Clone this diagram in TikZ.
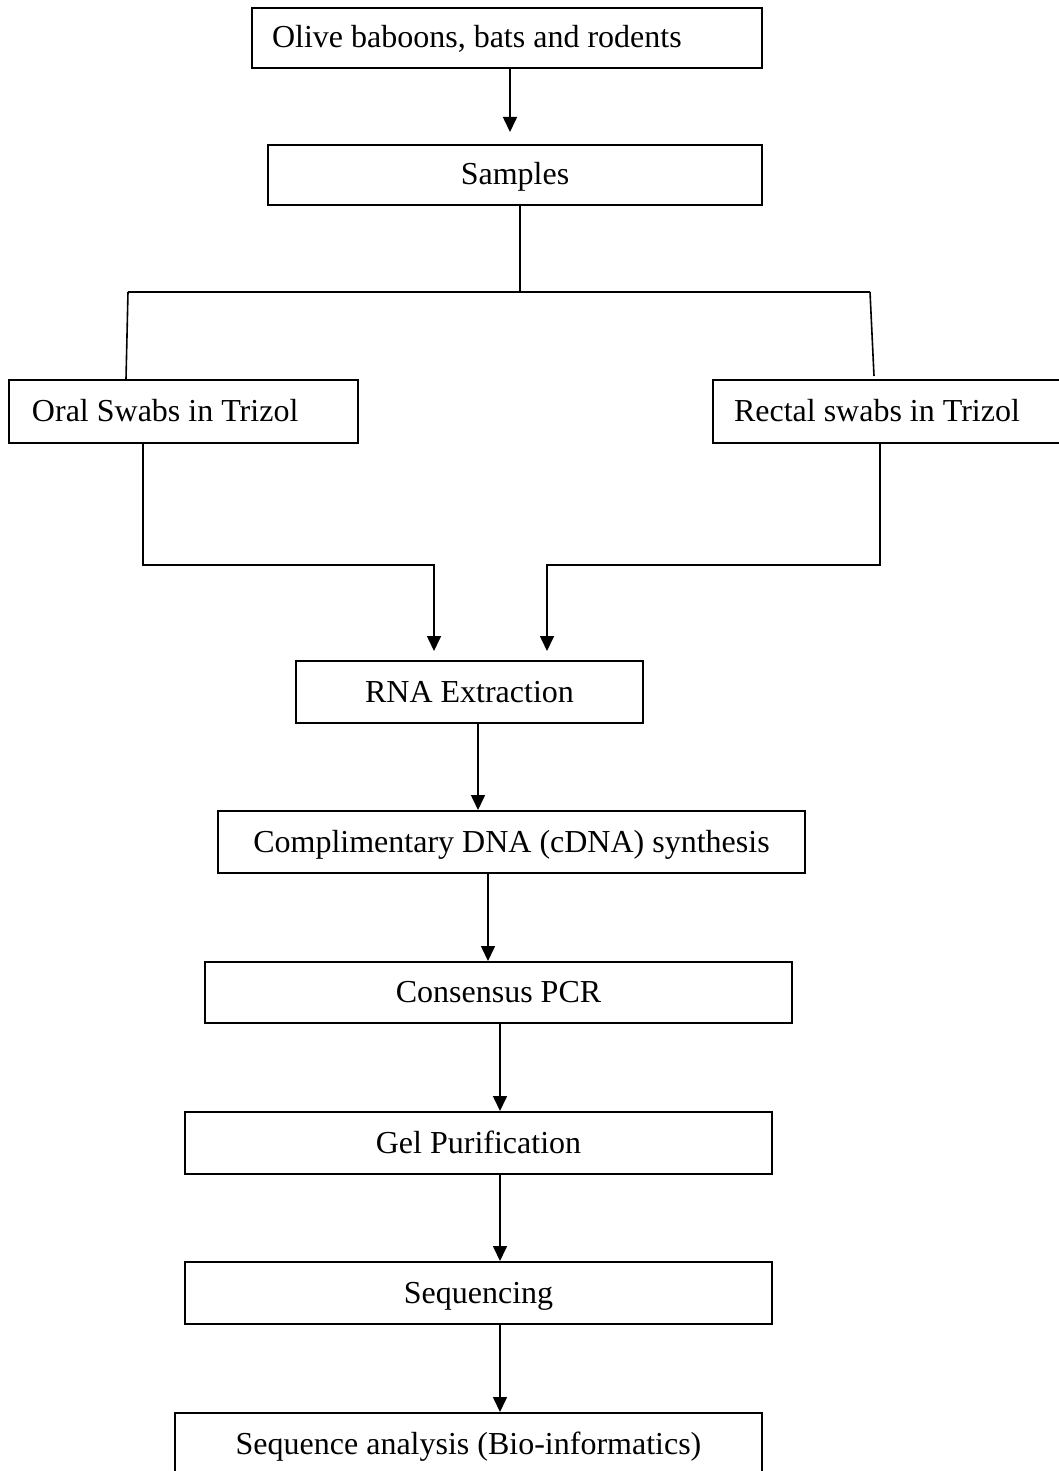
\documentclass[tikz,border=0pt]{standalone}
\usepackage{fontspec}
\setmainfont{Liberation Serif}
\usetikzlibrary{arrows.meta}
\begin{document}
\begin{tikzpicture}[x=0.5pt,y=-0.5pt,
  box/.style={draw, line width=1pt, rectangle, inner sep=0pt, font=\fontsize{16}{19}\selectfont, text height=12pt, text depth=2pt, anchor=center},
  lbox/.style={box, align=flush left},
  conn/.style={line width=0.8pt},
  arr/.style={conn, -{Triangle[length=7.5pt,width=7pt]}}]
\useasboundingbox (0,0) rectangle (1059,1471);
\clip (0,0) rectangle (1059,1471);
% boxes
\node[lbox, minimum width=255pt, minimum height=30pt, inner xsep=10pt, text width=235pt] (b1) at (507,38) {Olive baboons, bats and rodents};
\node[box, minimum width=247pt, minimum height=30pt] (b2) at (515,175) {Samples};
\node[lbox, minimum width=174.5pt, minimum height=31.5pt, inner xsep=11.5pt, text width=151.5pt] (oral) at (183.5,411.5) {Oral Swabs in Trizol};
\node[lbox, minimum width=174.5pt, minimum height=31.5pt, inner xsep=10.5pt, text width=153.5pt] (rectal) at (887.5,411.5) {Rectal swabs in Trizol};
\node[box, minimum width=173.5pt, minimum height=31pt] (rna) at (469.5,692) {RNA Extraction};
\node[box, minimum width=293.5pt, minimum height=31pt] (cdna) at (511.5,842) {Complimentary DNA (cDNA) synthesis};
\node[box, minimum width=293.5pt, minimum height=30.5pt] (pcr) at (498.5,992.5) {Consensus PCR};
\node[box, minimum width=293.5pt, minimum height=31pt] (gel) at (478.5,1143) {Gel Purification};
\node[box, minimum width=293.5pt, minimum height=31pt] (seqg) at (478.5,1293) {Sequencing};
\node[box, minimum width=293.5pt, minimum height=31pt] (ana) at (468.5,1444) {Sequence analysis (Bio-informatics)};
% connectors
\draw[arr] ([xshift=1.5pt]b1.south) -- ([xshift=-2.5pt,yshift=6pt]b2.north);
\coordinate (sp) at (520,292);
\coordinate (spl) at (128,292);
\coordinate (spr) at (870,292);
\draw[conn] ([xshift=2.5pt]b2.south) -- (sp);
\draw[conn] (spl) -- (spr);
\draw[conn] (spl) -- ([xshift=-28.75pt]oral.north);
\draw[conn] (spr) -- ([xshift=-6.75pt,yshift=1.5pt]rectal.north);
\draw[arr] ([xshift=-20.25pt]oral.south) -- ++(0,121) -| ([xshift=-17.75pt,yshift=4.5pt]rna.north);
\draw[arr] ([xshift=-3.75pt]rectal.south) -- ++(0,121) -| ([xshift=38.75pt,yshift=4.5pt]rna.north);
\draw[arr] ([xshift=4.25pt]rna.south) -- ([xshift=-16.75pt]cdna.north);
\draw[arr] ([xshift=-11.75pt]cdna.south) -- ([xshift=-5.25pt]pcr.north);
\draw[arr] ([xshift=0.75pt]pcr.south) -- ([xshift=10.75pt]gel.north);
\draw[arr] ([xshift=10.75pt]gel.south) -- ([xshift=10.75pt]seqg.north);
\draw[arr] ([xshift=10.75pt]seqg.south) -- ([xshift=15.75pt]ana.north);
\end{tikzpicture}
\end{document}
